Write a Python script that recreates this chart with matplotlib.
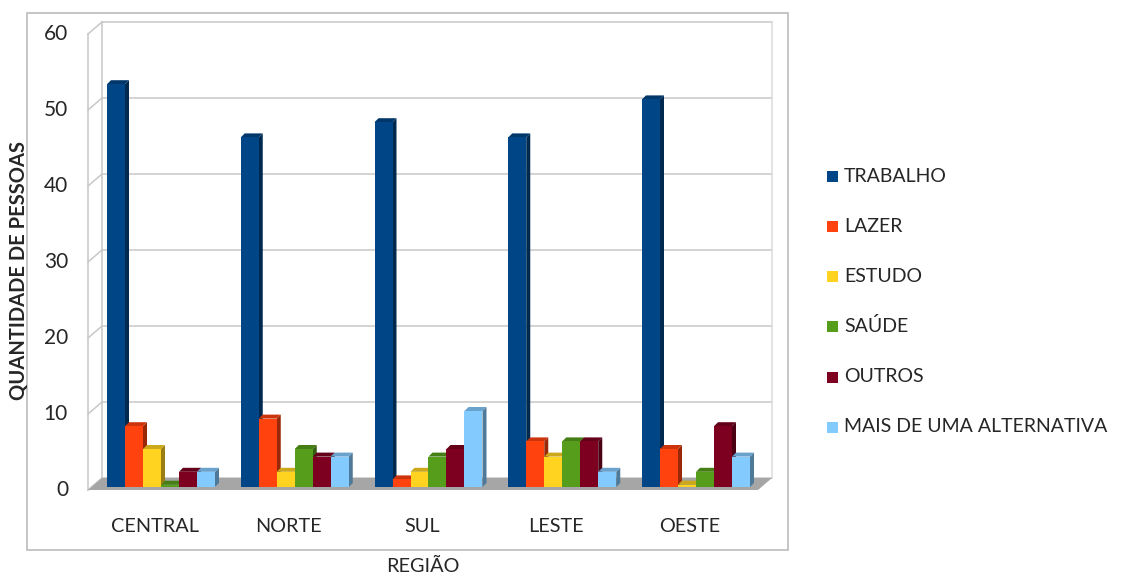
import matplotlib
matplotlib.use("Agg")
import matplotlib.pyplot as plt
from matplotlib.patches import Polygon, Rectangle
import matplotlib.colors as mcolors

regions = ["CENTRAL", "NORTE", "SUL", "LESTE", "OESTE"]
series = ["TRABALHO", "LAZER", "ESTUDO", "SAÚDE", "OUTROS", "MAIS DE UMA ALTERNATIVA"]
trabalho = [53, 46, 48, 46, 51]
lazer = [8, 9, 1, 6, 5]
estudo = [5, 2, 2, 4, 0.3]
saude = [0.3, 5, 4, 6, 2]
outros = [2, 4, 5, 6, 8]
mais = [2, 4, 10, 2, 4]
values = [trabalho, lazer, estudo, saude, outros, mais]
colors = ["#004586", "#ff420e", "#ffd320", "#579d1c", "#7e0021", "#83caff"]
yticks = [0, 10, 20, 30, 40, 50, 60]

FONT = ["Lato", "DejaVu Sans"]
plt.rcParams["font.family"] = FONT
TXT = "#262626"

W, H = 1124, 578
fig = plt.figure(figsize=(W / 100, H / 100), dpi=100)

# pixel geometry
X0PX, XSCALE = 161.0, 133.75   # px of group 0 centre, px per group
Y0PX, YSCALE = 487.0, 7.6      # px of bar base, px per unit
AX_L, AX_R, AX_T, AX_B = 80, 790, 10, 505
ax = fig.add_axes([AX_L / W, 1 - AX_B / H, (AX_R - AX_L) / W, (AX_B - AX_T) / H])
ax.set_xlim((AX_L - X0PX) / XSCALE, (AX_R - X0PX) / XSCALE)
ax.set_ylim(-(AX_B - Y0PX) / YSCALE, (Y0PX - AX_T) / YSCALE)
ax.axis("off")

def px_x(p):
    return (p - X0PX) / XSCALE

def px_y(p):
    return (Y0PX - p) / YSCALE

def dx(p):
    return p / XSCALE

def dy(p):
    return p / YSCALE

# wall geometry (front-left edge, back plane)
FL, BL, BR, FR = 88, 102, 772, 758
FRONT0, BACK0 = 490, 478
GRID = "#c8c8c8"
for t in yticks:
    yf = px_y(FRONT0) + t
    yb = px_y(BACK0) + t
    ax.plot([px_x(BL), px_x(BR)], [yb, yb], color=GRID, lw=1.1, zorder=1)
    ax.plot([px_x(FL), px_x(BL)], [yf, yb], color=GRID, lw=1.1, zorder=1)
top = yticks[-1]
ax.plot([px_x(FL)] * 2, [px_y(FRONT0), px_y(FRONT0) + top], color=GRID, lw=1.1, zorder=1)
ax.plot([px_x(BL)] * 2, [px_y(BACK0), px_y(BACK0) + top], color=GRID, lw=1.1, zorder=1)
ax.plot([px_x(BR)] * 2, [px_y(BACK0), px_y(BACK0) + top], color="#dcdcdc", lw=1.1, zorder=1)

# floor
ax.add_patch(Polygon([(px_x(FL), px_y(FRONT0)), (px_x(FR), px_y(FRONT0)),
                      (px_x(BR), px_y(BACK0)), (px_x(BL), px_y(BACK0))],
                     closed=True, facecolor="#a6a6a6", edgecolor="none", zorder=2))

for t in yticks:
    ax.text(px_x(68), px_y(FRONT0) + t, str(t), ha="right", va="center",
            fontsize=15, color=TXT)

# bars
pitch = dx(18)
bw = dx(18)
bdx, bdy = dx(4), dy(4)
n = len(series)
z = 3
for g in range(len(regions)):
    for s in range(n):
        v = values[s][g]
        x_left = g - n * pitch / 2 + s * pitch
        c = mcolors.to_rgb(colors[s])
        side = tuple(ch * 0.6 for ch in c)
        topc = tuple(ch * 0.8 for ch in c)
        ax.add_patch(Polygon([(x_left + bw, 0), (x_left + bw + bdx, bdy),
                              (x_left + bw + bdx, v + bdy), (x_left + bw, v)],
                             closed=True, facecolor=side, edgecolor="none", zorder=z))
        ax.add_patch(Polygon([(x_left, v), (x_left + bw, v),
                              (x_left + bw + bdx, v + bdy), (x_left + bdx, v + bdy)],
                             closed=True, facecolor=topc, edgecolor="none", zorder=z))
        ax.bar(x_left, v, width=bw, align="edge", color=colors[s], zorder=z + 1, linewidth=0)
        z += 2

for g, r in enumerate(regions):
    ax.text(g + dx(-6), px_y(527), r, ha="center", va="center", fontsize=14.3, color=TXT)

# axis titles
fig.text(423 / W, 1 - 566 / H, "REGIÃO", ha="center", va="center", fontsize=14.3, color=TXT)
fig.text(19 / W, 1 - 270 / H, "QUANTIDADE DE PESSOAS", ha="center", va="center", rotation=90,
         fontsize=14.5, fontweight="bold", color=TXT)

# chart frame
fig.patches.append(Rectangle((27 / W, 1 - 550 / H), (788 - 27) / W, (550 - 13) / H,
                             transform=fig.transFigure, fill=False, edgecolor="#c0c0c0", lw=1.3))

# legend
ys = [176, 226, 276, 326, 377, 427]
for s, (name, c) in enumerate(zip(series, colors)):
    y = ys[s]
    fig.patches.append(Rectangle((827 / W, 1 - (y + 6) / H), 11 / W, 11 / H,
                                 transform=fig.transFigure, facecolor=c, edgecolor="none"))
    fig.text(844 / W, 1 - y / H, name, ha="left", va="center", fontsize=14, color=TXT)

fig.savefig("out.png", dpi=100, facecolor="white")
